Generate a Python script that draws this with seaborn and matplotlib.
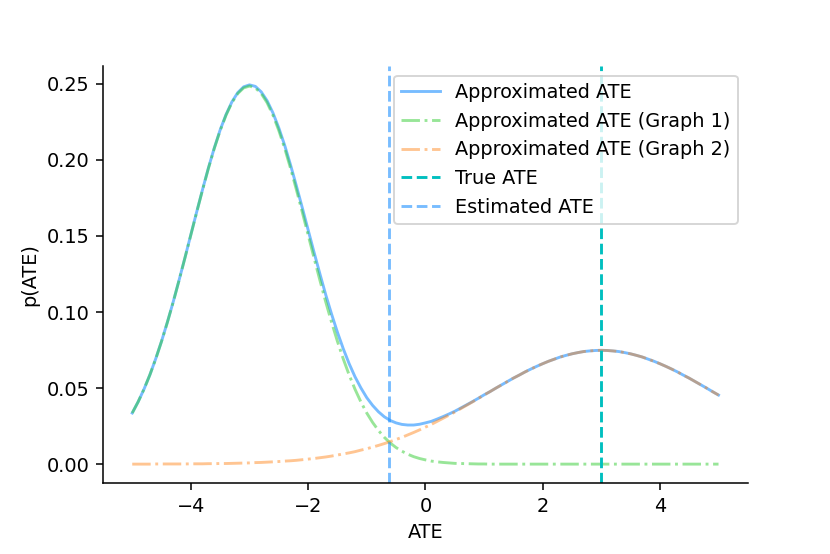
import numpy as np
import pandas as pd
import matplotlib
matplotlib.use("Agg")
import matplotlib.pyplot as plt
import seaborn as sns

# ATE-värden (x), steg 0.1 från -5 till 5
ate = np.round(np.linspace(-5, 5, 101), 1)

# Avlästa täthetsvärden
approx_total = [
    0.0336, 0.0409, 0.0492, 0.0586, 0.0692, 0.0808, 0.0934, 0.1068, 0.1211, 0.1358,
    0.1509, 0.1659, 0.1806, 0.1948, 0.2079, 0.2197, 0.2298, 0.2381, 0.2442, 0.2480,
    0.2493,
    0.2483, 0.2447, 0.2389, 0.2309, 0.2210, 0.2096, 0.1967, 0.1829, 0.1686, 0.1540,
    0.1394, 0.1252, 0.1114, 0.0986, 0.0867, 0.0758, 0.0660, 0.0574, 0.0501, 0.0437,
    0.0386, 0.0344, 0.0311, 0.0287, 0.0271, 0.0261, 0.0257, 0.0257, 0.0262, 0.0271,
    0.0281, 0.0296, 0.0312, 0.0329, 0.0347, 0.0368, 0.0389, 0.0410, 0.0432, 0.0455,
    0.0476, 0.0499, 0.0521, 0.0543, 0.0565, 0.0585, 0.0606, 0.0625, 0.0643, 0.0660,
    0.0676, 0.0690, 0.0704, 0.0715, 0.0725, 0.0733, 0.0740, 0.0744, 0.0747, 0.0748,
    0.0747, 0.0744, 0.0740, 0.0733, 0.0725, 0.0715, 0.0704, 0.0690, 0.0676, 0.0660,
    0.0643, 0.0625, 0.0606, 0.0585, 0.0565, 0.0543, 0.0521, 0.0499, 0.0476, 0.0454,
]

approx_graph1 = [
    0.0336, 0.0409, 0.0492, 0.0586, 0.0691, 0.0807, 0.0933, 0.1067, 0.1210, 0.1357,
    0.1507, 0.1657, 0.1804, 0.1945, 0.2076, 0.2193, 0.2294, 0.2376, 0.2436, 0.2473,
    0.2485,
    0.2473, 0.2436, 0.2376, 0.2294, 0.2193, 0.2076, 0.1945, 0.1804, 0.1657, 0.1507,
    0.1357, 0.1210, 0.1067, 0.0933, 0.0807, 0.0691, 0.0586, 0.0492, 0.0409, 0.0336,
    0.0274, 0.0221, 0.0176, 0.0139, 0.0109, 0.0085, 0.0065, 0.0049, 0.0037, 0.0028,
    0.0020, 0.0015, 0.0011, 0.0008, 0.0005, 0.0004, 0.0003, 0.0002, 0.0001, 0.0001,
    0.0, 0.0, 0.0, 0.0, 0.0, 0.0, 0.0, 0.0, 0.0, 0.0,
    0.0, 0.0, 0.0, 0.0, 0.0, 0.0, 0.0, 0.0, 0.0, 0.0,
    0.0, 0.0, 0.0, 0.0, 0.0, 0.0, 0.0, 0.0, 0.0, 0.0,
    0.0, 0.0, 0.0, 0.0, 0.0, 0.0, 0.0, 0.0, 0.0, 0.0,
]

approx_graph2 = [
    0.0000, 0.0000, 0.0000, 0.0000, 0.0001, 0.0001, 0.0001, 0.0001, 0.0001, 0.0001,
    0.0002, 0.0002, 0.0002, 0.0003, 0.0003, 0.0004, 0.0004, 0.0005, 0.0006, 0.0007,
    0.0008,
    0.0010, 0.0011, 0.0013, 0.0015, 0.0017, 0.0020, 0.0022, 0.0025, 0.0029, 0.0033,
    0.0037, 0.0042, 0.0047, 0.0053, 0.0060, 0.0067, 0.0074, 0.0082, 0.0092, 0.0101,
    0.0112, 0.0123, 0.0135, 0.0148, 0.0162, 0.0176, 0.0192, 0.0208, 0.0225, 0.0243,
    0.0261, 0.0281, 0.0301, 0.0321, 0.0342, 0.0364, 0.0386, 0.0408, 0.0431, 0.0454,
    0.0476, 0.0499, 0.0521, 0.0543, 0.0565, 0.0585, 0.0606, 0.0625, 0.0643, 0.0660,
    0.0676, 0.0690, 0.0704, 0.0715, 0.0725, 0.0733, 0.0740, 0.0744, 0.0747, 0.0748,
    0.0747, 0.0744, 0.0740, 0.0733, 0.0725, 0.0715, 0.0704, 0.0690, 0.0676, 0.0660,
    0.0643, 0.0625, 0.0606, 0.0585, 0.0565, 0.0543, 0.0521, 0.0499, 0.0476, 0.0454,
]

true_ate = 3.0
estimated_ate = -0.62

df = pd.DataFrame({"ATE": ate, "total": approx_total,
                   "g1": approx_graph1, "g2": approx_graph2})

fig, ax = plt.subplots(figsize=(6, 4.005), dpi=830 / 6)

sns.lineplot(data=df, x="ATE", y="total", color="dodgerblue", alpha=0.6,
             label="Approximated ATE", ax=ax)
sns.lineplot(data=df, x="ATE", y="g1", color="limegreen", alpha=0.5, linestyle="-.",
             label="Approximated ATE (Graph 1)", ax=ax)
sns.lineplot(data=df, x="ATE", y="g2", color="tab:orange", alpha=0.45, linestyle="-.",
             label="Approximated ATE (Graph 2)", ax=ax)
ax.axvline(true_ate, color="c", linestyle="--", label="True ATE")
ax.axvline(estimated_ate, color="dodgerblue", alpha=0.6, linestyle="--", label="Estimated ATE")

ax.set_xlabel("ATE")
ax.set_ylabel("p(ATE)")
ax.legend(loc="upper right")
sns.despine()

plt.subplots_adjust(left=0.124, right=0.901, top=0.881, bottom=0.128)
plt.savefig("out.png")
